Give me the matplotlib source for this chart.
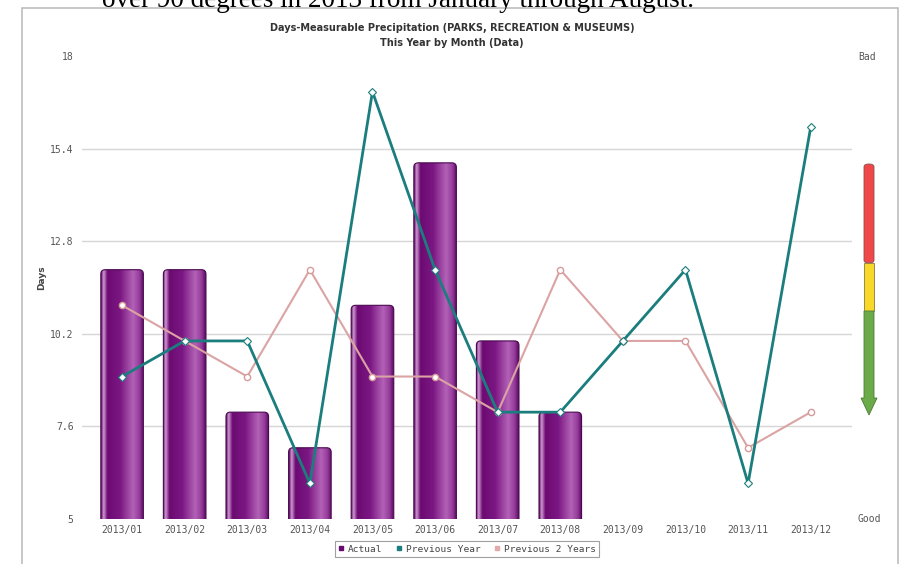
#!/usr/bin/env python3
# -*- coding: utf-8 -*-
"""Days-Measurable Precipitation chart (bars + two comparison lines)."""

import numpy as np
import matplotlib
matplotlib.use('Agg')
import matplotlib.pyplot as plt
from matplotlib.colors import LinearSegmentedColormap
from matplotlib.patches import FancyBboxPatch, Rectangle, Polygon
from matplotlib.lines import Line2D

months = ['2013/01', '2013/02', '2013/03', '2013/04', '2013/05', '2013/06',
          '2013/07', '2013/08', '2013/09', '2013/10', '2013/11', '2013/12']
actual = [12, 12, 8, 7, 11, 15, 10, 8]
previous_year = [9, 10, 10, 6, 17, 12, 8, 8, 10, 12, 6, 16]
previous_2_years = [11, 10, 9, 12, 9, 9, 8, 12, 10, 10, 7, 8]
y_ticks = [5, 7.6, 10.2, 12.8, 15.4, 18]
y_tick_labels = ['5', '7.6', '10.2', '12.8', '15.4', '18']

W, H = 907, 564
fig = plt.figure(figsize=(W / 100, H / 100), dpi=100)
fig.patch.set_facecolor('white')

# cut-off sentence from the surrounding document
fig.text(398 / W, 1 - 7 / H, 'over 90 degrees in 2013 from January through August.',
         family='Liberation Serif', fontsize=19.5, ha='center', va='baseline',
         color='black')

# chart frame
fig.add_artist(Rectangle((22 / W, -0.05), (898 - 22) / W, 1.05 - 8 / H,
                         transform=fig.transFigure, fill=False,
                         edgecolor='#bdbdbd', linewidth=1.2))

ax = fig.add_axes([82 / W, 1 - 519 / H, 770 / W, 463 / H])
ax.set_facecolor('none')

# purple cylinder-look bars
bar_cmap = LinearSegmentedColormap.from_list('bar', [
    (0.0, '#5a0a60'), (0.06, '#cf9ad3'), (0.15, '#6c0a72'),
    (0.45, '#7c1783'), (0.75, '#b262b6'), (0.9, '#953a9b'), (1.0, '#560a5c')])
gradient = np.linspace(0, 1, 256).reshape(1, -1)
bw = 0.68
for i, v in enumerate(actual):
    x0 = i - bw / 2
    patch = FancyBboxPatch((x0, 4.0), bw, v - 4.0,
                           boxstyle='round,pad=0,rounding_size=0.07',
                           mutation_aspect=1.76, facecolor='none',
                           edgecolor='#4a0850', linewidth=0.8, zorder=2.5)
    ax.add_patch(patch)
    im = ax.imshow(gradient, extent=[x0, x0 + bw, 4.0, v], aspect='auto',
                   cmap=bar_cmap, zorder=2, interpolation='bilinear')
    im.set_clip_path(patch)

x = np.arange(len(months))
ax.plot(x, previous_2_years, color='#dba3a3', linewidth=1.5, zorder=3,
        marker='o', markersize=4.5, markerfacecolor='white',
        markeredgecolor='#d59a9a', markeredgewidth=1)
ax.plot(x, previous_year, color='#1b7d7d', linewidth=2, zorder=4,
        marker='D', markersize=4.5, markerfacecolor='white',
        markeredgecolor='#1b7d7d', markeredgewidth=0.8)

ax.set_xlim(-0.64, 11.66)
ax.set_ylim(5, 18)
for yv in y_ticks[1:-1]:
    ax.axhline(yv, color='#d6d6d6', linewidth=1, zorder=1)

ax.set_yticks(y_ticks)
ax.set_yticklabels(y_tick_labels)
ax.set_xticks(x)
ax.set_xticklabels(months)
ax.tick_params(axis='both', length=0, labelsize=7, labelcolor='#555555')
ax.tick_params(axis='y', pad=6)
ax.tick_params(axis='x', pad=4)
for lab in ax.get_xticklabels() + ax.get_yticklabels():
    lab.set_family('DejaVu Sans Mono')
for spine in ax.spines.values():
    spine.set_visible(False)

fig.text(42 / W, 1 - 278 / H, 'Days', rotation=90, ha='center', va='center',
         fontsize=6.5, fontweight='bold', color='#444444')

fig.text(452 / W, 1 - 28 / H,
         'Days-Measurable Precipitation (PARKS, RECREATION & MUSEUMS)',
         ha='center', va='center', fontsize=7, fontweight='bold', color='#333333')
fig.text(452 / W, 1 - 43 / H, 'This Year by Month (Data)',
         ha='center', va='center', fontsize=7, fontweight='bold', color='#333333')

fig.text(858 / W, 1 - 57 / H, 'Bad', family='DejaVu Sans Mono', fontsize=7,
         color='#555555', ha='left', va='center')
fig.text(858 / W, 1 - 519 / H, 'Good', family='DejaVu Sans Mono', fontsize=7,
         color='#555555', ha='left', va='center')

# good/bad indicator arrow
gx, gw = 869, 10
def px(xp, yp):
    return (xp / W, 1 - yp / H)
fig.add_artist(FancyBboxPatch(px(gx - gw / 2, 263), gw / W, (263 - 164) / H,
                              boxstyle='round,pad=0,rounding_size=0.005',
                              transform=fig.transFigure, facecolor='#f04848',
                              edgecolor='#8a5050', linewidth=0.6))
fig.add_artist(Rectangle(px(gx - gw / 2, 311), gw / W, (311 - 263) / H,
                         transform=fig.transFigure, facecolor='#f8d828',
                         edgecolor='#8a7a40', linewidth=0.6))
fig.add_artist(Polygon([px(gx - gw / 2, 311), px(gx + gw / 2, 311),
                        px(gx + gw / 2, 398), px(gx + 8, 398), px(gx, 415),
                        px(gx - 8, 398), px(gx - gw / 2, 398)],
                       closed=True, transform=fig.transFigure,
                       facecolor='#6aaa48', edgecolor='#4c7a3a', linewidth=0.6))

handles = [Line2D([], [], linestyle='none', marker='s', markersize=3,
                  color=c, label=l)
           for c, l in [('#6a0a70', 'Actual'), ('#1b7d7d', 'Previous Year'),
                        ('#e3aaaa', 'Previous 2 Years')]]
leg = fig.legend(handles=handles, loc='center', bbox_to_anchor=(467 / W, 1 - 549 / H),
                 ncol=3, frameon=True, fancybox=False, edgecolor='#888888',
                 handlelength=0.6, handletextpad=0.4, columnspacing=1.5,
                 borderpad=0.35, prop={'family': 'DejaVu Sans Mono', 'size': 6.8})
leg.get_frame().set_linewidth(0.8)
for t in leg.get_texts():
    t.set_color('#444444')

fig.savefig('out.png', dpi=100)
